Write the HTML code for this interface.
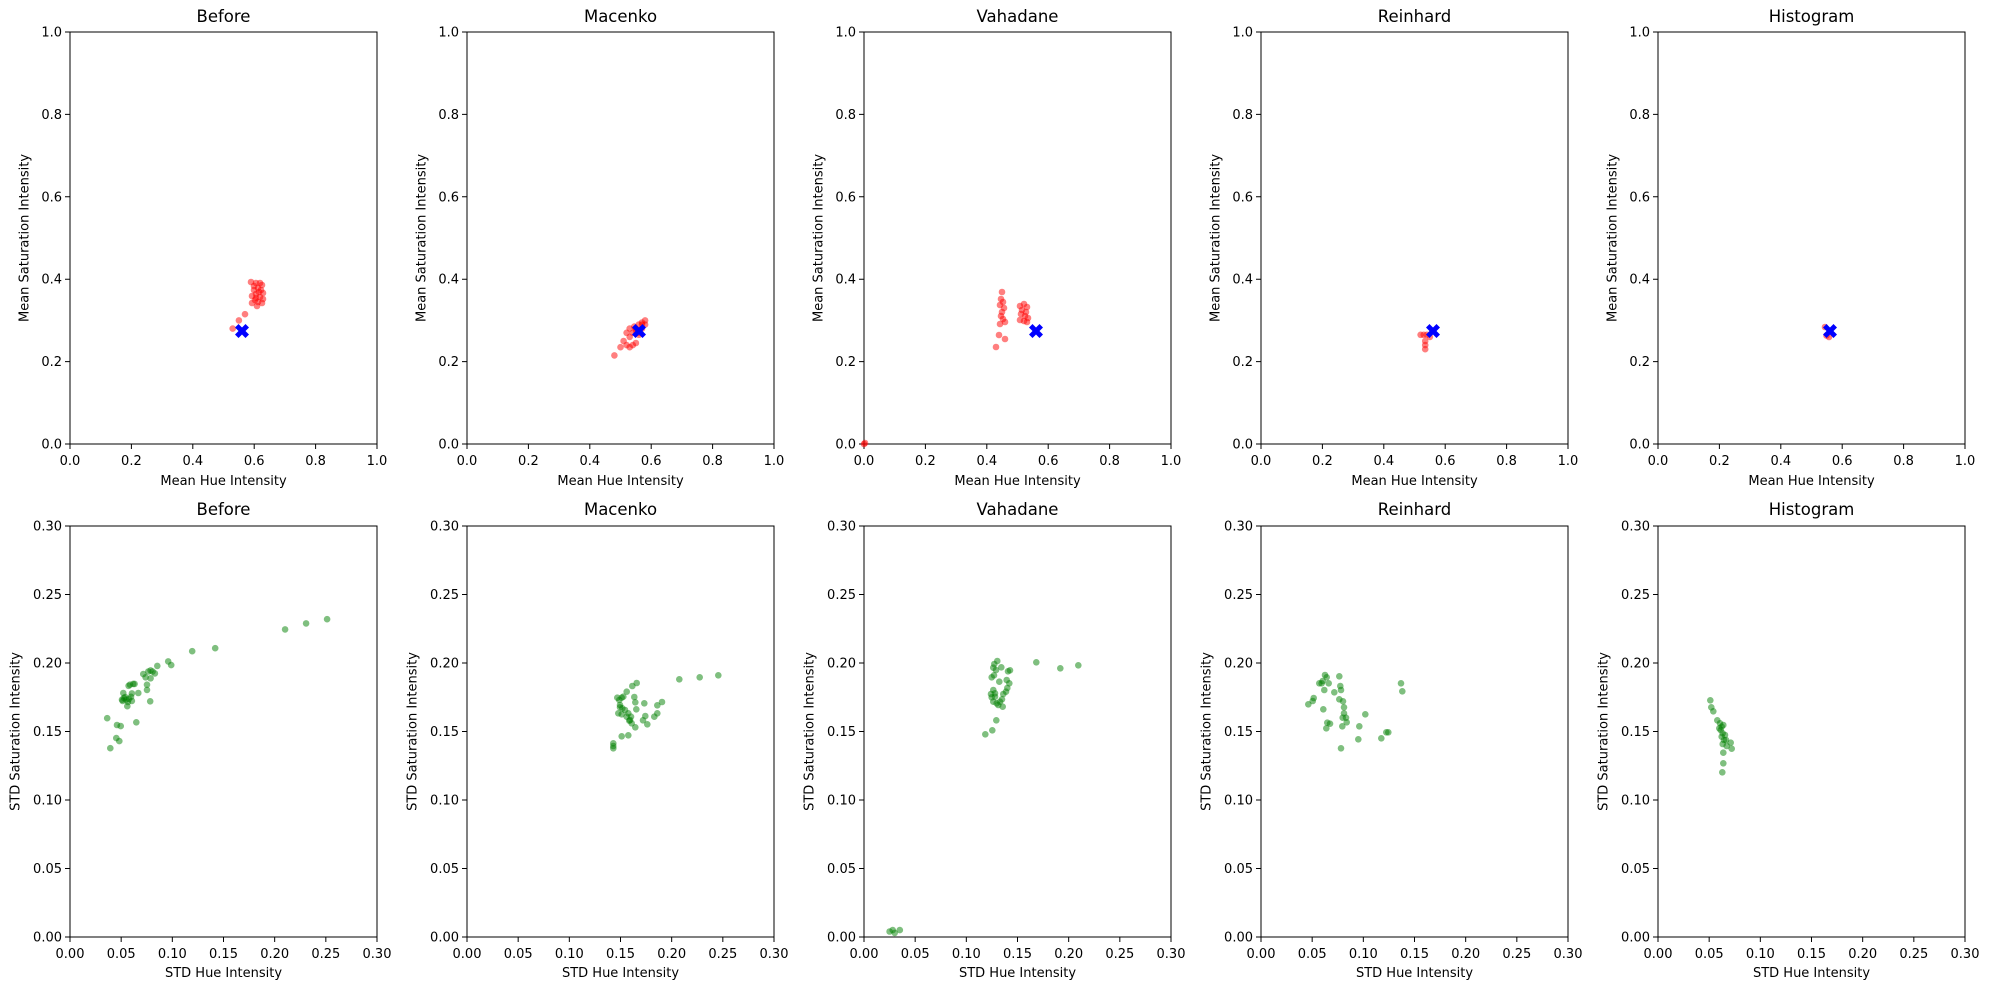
<!DOCTYPE html>
<html><head><meta charset="utf-8"><style>
html,body{margin:0;padding:0;background:#fff}
svg{display:block;font-family:"DejaVu Sans","Liberation Sans",sans-serif}
.t{font-size:13px;fill:#000}
.ti{font-size:16.5px;fill:#000}
.ax{fill:none;stroke:#000;stroke-width:1}
.r circle{fill:#ff0000;fill-opacity:.5}
.g circle{fill:#008000;fill-opacity:.5}
</style></head><body>
<svg width="1990" height="990" viewBox="0 0 1990 990">
<defs>
<g id="tt">
<rect class="ax" x="0" y="0" width="307" height="412"/>
<path class="ax" d="M0 412v5M61.4 412v5M122.8 412v5M184.2 412v5M245.6 412v5M307 412v5M0 412h-5M0 329.6h-5M0 247.2h-5M0 164.8h-5M0 82.4h-5M0 0h-5"/>
</g>
<g id="bt">
<rect class="ax" x="0" y="0" width="307" height="411"/>
<path class="ax" d="M0 411v5M51.17 411v5M102.33 411v5M153.5 411v5M204.67 411v5M255.83 411v5M307 411v5M0 411h-5M0 342.5h-5M0 274h-5M0 205.5h-5M0 137h-5M0 68.5h-5M0 0h-5"/>
</g>
<path id="X" fill="#0000ff" d="M-7,-3.5L-3.5,-7L0,-3.5L3.5,-7L7,-3.5L3.5,0L7,3.5L3.5,7L0,3.5L-3.5,7L-7,3.5L-3.5,0Z"/>
</defs>

<!-- TOP ROW -->
<g transform="translate(70,32)"><use href="#tt"/>
<text class="ti" x="153.5" y="-10" text-anchor="middle">Before</text>
<g class="t" text-anchor="middle"><text x="0" y="433">0.0</text><text x="61.4" y="433">0.2</text><text x="122.8" y="433">0.4</text><text x="184.2" y="433">0.6</text><text x="245.6" y="433">0.8</text><text x="307" y="433">1.0</text></g>
<g class="t" text-anchor="end"><text x="-8" y="416.5">0.0</text><text x="-8" y="334">0.2</text><text x="-8" y="251.7">0.4</text><text x="-8" y="169.3">0.6</text><text x="-8" y="86.9">0.8</text><text x="-8" y="4.5">1.0</text></g>
<text class="t" x="153.5" y="453" text-anchor="middle">Mean Hue Intensity</text>
<text class="t" transform="translate(-45,206) rotate(-90)" text-anchor="middle" dominant-baseline="central">Mean Saturation Intensity</text>
</g>
<g transform="translate(467,32)"><use href="#tt"/>
<text class="ti" x="153.5" y="-10" text-anchor="middle">Macenko</text>
<g class="t" text-anchor="middle"><text x="0" y="433">0.0</text><text x="61.4" y="433">0.2</text><text x="122.8" y="433">0.4</text><text x="184.2" y="433">0.6</text><text x="245.6" y="433">0.8</text><text x="307" y="433">1.0</text></g>
<g class="t" text-anchor="end"><text x="-8" y="416.5">0.0</text><text x="-8" y="334">0.2</text><text x="-8" y="251.7">0.4</text><text x="-8" y="169.3">0.6</text><text x="-8" y="86.9">0.8</text><text x="-8" y="4.5">1.0</text></g>
<text class="t" x="153.5" y="453" text-anchor="middle">Mean Hue Intensity</text>
<text class="t" transform="translate(-45,206) rotate(-90)" text-anchor="middle" dominant-baseline="central">Mean Saturation Intensity</text>
</g>
<g transform="translate(864,32)"><use href="#tt"/>
<text class="ti" x="153.5" y="-10" text-anchor="middle">Vahadane</text>
<g class="t" text-anchor="middle"><text x="0" y="433">0.0</text><text x="61.4" y="433">0.2</text><text x="122.8" y="433">0.4</text><text x="184.2" y="433">0.6</text><text x="245.6" y="433">0.8</text><text x="307" y="433">1.0</text></g>
<g class="t" text-anchor="end"><text x="-8" y="416.5">0.0</text><text x="-8" y="334">0.2</text><text x="-8" y="251.7">0.4</text><text x="-8" y="169.3">0.6</text><text x="-8" y="86.9">0.8</text><text x="-8" y="4.5">1.0</text></g>
<text class="t" x="153.5" y="453" text-anchor="middle">Mean Hue Intensity</text>
<text class="t" transform="translate(-45,206) rotate(-90)" text-anchor="middle" dominant-baseline="central">Mean Saturation Intensity</text>
</g>
<g transform="translate(1261,32)"><use href="#tt"/>
<text class="ti" x="153.5" y="-10" text-anchor="middle">Reinhard</text>
<g class="t" text-anchor="middle"><text x="0" y="433">0.0</text><text x="61.4" y="433">0.2</text><text x="122.8" y="433">0.4</text><text x="184.2" y="433">0.6</text><text x="245.6" y="433">0.8</text><text x="307" y="433">1.0</text></g>
<g class="t" text-anchor="end"><text x="-8" y="416.5">0.0</text><text x="-8" y="334">0.2</text><text x="-8" y="251.7">0.4</text><text x="-8" y="169.3">0.6</text><text x="-8" y="86.9">0.8</text><text x="-8" y="4.5">1.0</text></g>
<text class="t" x="153.5" y="453" text-anchor="middle">Mean Hue Intensity</text>
<text class="t" transform="translate(-45,206) rotate(-90)" text-anchor="middle" dominant-baseline="central">Mean Saturation Intensity</text>
</g>
<g transform="translate(1658,32)"><use href="#tt"/>
<text class="ti" x="153.5" y="-10" text-anchor="middle">Histogram</text>
<g class="t" text-anchor="middle"><text x="0" y="433">0.0</text><text x="61.4" y="433">0.2</text><text x="122.8" y="433">0.4</text><text x="184.2" y="433">0.6</text><text x="245.6" y="433">0.8</text><text x="307" y="433">1.0</text></g>
<g class="t" text-anchor="end"><text x="-8" y="416.5">0.0</text><text x="-8" y="334">0.2</text><text x="-8" y="251.7">0.4</text><text x="-8" y="169.3">0.6</text><text x="-8" y="86.9">0.8</text><text x="-8" y="4.5">1.0</text></g>
<text class="t" x="153.5" y="453" text-anchor="middle">Mean Hue Intensity</text>
<text class="t" transform="translate(-45,206) rotate(-90)" text-anchor="middle" dominant-baseline="central">Mean Saturation Intensity</text>
</g>

<!-- BOTTOM ROW -->
<g transform="translate(70,526)"><use href="#bt"/>
<text class="ti" x="153.5" y="-11" text-anchor="middle">Before</text>
<g class="t" text-anchor="middle"><text x="0" y="432">0.00</text><text x="51.17" y="432">0.05</text><text x="102.33" y="432">0.10</text><text x="153.5" y="432">0.15</text><text x="204.67" y="432">0.20</text><text x="255.83" y="432">0.25</text><text x="307" y="432">0.30</text></g>
<g class="t" text-anchor="end"><text x="-8" y="415.5">0.00</text><text x="-8" y="347">0.05</text><text x="-8" y="278.5">0.10</text><text x="-8" y="210">0.15</text><text x="-8" y="141.5">0.20</text><text x="-8" y="73">0.25</text><text x="-8" y="4.5">0.30</text></g>
<text class="t" x="153.5" y="451" text-anchor="middle">STD Hue Intensity</text>
<text class="t" transform="translate(-54,205.5) rotate(-90)" text-anchor="middle" dominant-baseline="central">STD Saturation Intensity</text>
</g>
<g transform="translate(467,526)"><use href="#bt"/>
<text class="ti" x="153.5" y="-11" text-anchor="middle">Macenko</text>
<g class="t" text-anchor="middle"><text x="0" y="432">0.00</text><text x="51.17" y="432">0.05</text><text x="102.33" y="432">0.10</text><text x="153.5" y="432">0.15</text><text x="204.67" y="432">0.20</text><text x="255.83" y="432">0.25</text><text x="307" y="432">0.30</text></g>
<g class="t" text-anchor="end"><text x="-8" y="415.5">0.00</text><text x="-8" y="347">0.05</text><text x="-8" y="278.5">0.10</text><text x="-8" y="210">0.15</text><text x="-8" y="141.5">0.20</text><text x="-8" y="73">0.25</text><text x="-8" y="4.5">0.30</text></g>
<text class="t" x="153.5" y="451" text-anchor="middle">STD Hue Intensity</text>
<text class="t" transform="translate(-54,205.5) rotate(-90)" text-anchor="middle" dominant-baseline="central">STD Saturation Intensity</text>
</g>
<g transform="translate(864,526)"><use href="#bt"/>
<text class="ti" x="153.5" y="-11" text-anchor="middle">Vahadane</text>
<g class="t" text-anchor="middle"><text x="0" y="432">0.00</text><text x="51.17" y="432">0.05</text><text x="102.33" y="432">0.10</text><text x="153.5" y="432">0.15</text><text x="204.67" y="432">0.20</text><text x="255.83" y="432">0.25</text><text x="307" y="432">0.30</text></g>
<g class="t" text-anchor="end"><text x="-8" y="415.5">0.00</text><text x="-8" y="347">0.05</text><text x="-8" y="278.5">0.10</text><text x="-8" y="210">0.15</text><text x="-8" y="141.5">0.20</text><text x="-8" y="73">0.25</text><text x="-8" y="4.5">0.30</text></g>
<text class="t" x="153.5" y="451" text-anchor="middle">STD Hue Intensity</text>
<text class="t" transform="translate(-54,205.5) rotate(-90)" text-anchor="middle" dominant-baseline="central">STD Saturation Intensity</text>
</g>
<g transform="translate(1261,526)"><use href="#bt"/>
<text class="ti" x="153.5" y="-11" text-anchor="middle">Reinhard</text>
<g class="t" text-anchor="middle"><text x="0" y="432">0.00</text><text x="51.17" y="432">0.05</text><text x="102.33" y="432">0.10</text><text x="153.5" y="432">0.15</text><text x="204.67" y="432">0.20</text><text x="255.83" y="432">0.25</text><text x="307" y="432">0.30</text></g>
<g class="t" text-anchor="end"><text x="-8" y="415.5">0.00</text><text x="-8" y="347">0.05</text><text x="-8" y="278.5">0.10</text><text x="-8" y="210">0.15</text><text x="-8" y="141.5">0.20</text><text x="-8" y="73">0.25</text><text x="-8" y="4.5">0.30</text></g>
<text class="t" x="153.5" y="451" text-anchor="middle">STD Hue Intensity</text>
<text class="t" transform="translate(-54,205.5) rotate(-90)" text-anchor="middle" dominant-baseline="central">STD Saturation Intensity</text>
</g>
<g transform="translate(1658,526)"><use href="#bt"/>
<text class="ti" x="153.5" y="-11" text-anchor="middle">Histogram</text>
<g class="t" text-anchor="middle"><text x="0" y="432">0.00</text><text x="51.17" y="432">0.05</text><text x="102.33" y="432">0.10</text><text x="153.5" y="432">0.15</text><text x="204.67" y="432">0.20</text><text x="255.83" y="432">0.25</text><text x="307" y="432">0.30</text></g>
<g class="t" text-anchor="end"><text x="-8" y="415.5">0.00</text><text x="-8" y="347">0.05</text><text x="-8" y="278.5">0.10</text><text x="-8" y="210">0.15</text><text x="-8" y="141.5">0.20</text><text x="-8" y="73">0.25</text><text x="-8" y="4.5">0.30</text></g>
<text class="t" x="153.5" y="451" text-anchor="middle">STD Hue Intensity</text>
<text class="t" transform="translate(-54,205.5) rotate(-90)" text-anchor="middle" dominant-baseline="central">STD Saturation Intensity</text>
</g>

<!-- TOP POINTS -->
<g class="r">
<circle cx="251" cy="282" r="3.3"/><circle cx="256" cy="283" r="3.3"/><circle cx="260" cy="283" r="3.3"/><circle cx="262" cy="285" r="3.3"/><circle cx="258" cy="288" r="3.3"/><circle cx="254" cy="290" r="3.3"/><circle cx="261" cy="290" r="3.3"/><circle cx="263" cy="293" r="3.3"/><circle cx="256" cy="294" r="3.3"/><circle cx="252" cy="296" r="3.3"/><circle cx="260" cy="297" r="3.3"/><circle cx="263" cy="299" r="3.3"/><circle cx="255" cy="300" r="3.3"/><circle cx="258" cy="302" r="3.3"/><circle cx="252" cy="303" r="3.3"/><circle cx="262" cy="303" r="3.3"/><circle cx="257" cy="306" r="3.3"/><circle cx="254" cy="286" r="3.3"/><circle cx="259" cy="292" r="3.3"/><circle cx="256" cy="298" r="3.3"/>
<circle cx="238.9" cy="320.4" r="3.3"/><circle cx="245" cy="314.2" r="3.3"/><circle cx="232.7" cy="328.6" r="3.3"/>

<circle cx="614.4" cy="355.4" r="3.3"/><circle cx="620.5" cy="347.2" r="3.3"/><circle cx="623.6" cy="341" r="3.3"/><circle cx="626.6" cy="345.1" r="3.3"/><circle cx="629.7" cy="347.2" r="3.3"/><circle cx="632.8" cy="345.1" r="3.3"/><circle cx="635.9" cy="343" r="3.3"/><circle cx="629.7" cy="336.9" r="3.3"/><circle cx="632.8" cy="332.8" r="3.3"/><circle cx="635.9" cy="328.6" r="3.3"/><circle cx="638.9" cy="324.5" r="3.3"/><circle cx="642" cy="322.5" r="3.3"/><circle cx="645.1" cy="320.4" r="3.3"/><circle cx="642" cy="328.6" r="3.3"/><circle cx="638.9" cy="332.8" r="3.3"/><circle cx="645.1" cy="324.5" r="3.3"/><circle cx="635.9" cy="330.7" r="3.3"/><circle cx="626.6" cy="332.8" r="3.3"/><circle cx="629.7" cy="328.6" r="3.3"/><circle cx="638.9" cy="334.8" r="3.3"/><circle cx="642" cy="324.5" r="3.3"/><circle cx="634.3" cy="326.6" r="3.3"/>

<circle cx="1002" cy="292" r="3.3"/><circle cx="1001" cy="299" r="3.3"/><circle cx="1003" cy="302" r="3.3"/><circle cx="1000" cy="305" r="3.3"/><circle cx="1004" cy="308" r="3.3"/><circle cx="1002" cy="312" r="3.3"/><circle cx="1001" cy="316" r="3.3"/><circle cx="1003" cy="319" r="3.3"/><circle cx="1005" cy="322" r="3.3"/><circle cx="1000" cy="324" r="3.3"/>
<circle cx="1020" cy="306" r="3.3"/><circle cx="1024" cy="304" r="3.3"/><circle cx="1027" cy="307" r="3.3"/><circle cx="1022" cy="310" r="3.3"/><circle cx="1026" cy="312" r="3.3"/><circle cx="1021" cy="314" r="3.3"/><circle cx="1025" cy="316" r="3.3"/><circle cx="1028" cy="318" r="3.3"/><circle cx="1020" cy="320" r="3.3"/><circle cx="1024" cy="321" r="3.3"/><circle cx="1027" cy="322" r="3.3"/>
<circle cx="999" cy="335" r="3.3"/><circle cx="996" cy="347" r="3.3"/><circle cx="1005" cy="339" r="3.3"/><circle cx="864" cy="444" r="3.3"/><circle cx="865" cy="443" r="3.3"/>

<circle cx="1420.6" cy="334.8" r="3.3"/><circle cx="1423.7" cy="334.8" r="3.3"/><circle cx="1426.8" cy="334.8" r="3.3"/><circle cx="1425.2" cy="341" r="3.3"/><circle cx="1425.2" cy="345.1" r="3.3"/><circle cx="1425.2" cy="349.2" r="3.3"/><circle cx="1429.9" cy="336.9" r="3.3"/>

<circle cx="1825" cy="327" r="3.3"/><circle cx="1826.5" cy="335.5" r="3.3"/><circle cx="1829" cy="337" r="3.3"/>
</g>
<use href="#X" x="242" y="331"/><use href="#X" x="639" y="331"/><use href="#X" x="1036" y="331"/><use href="#X" x="1433" y="331"/><use href="#X" x="1830" y="331"/>

<!-- BOTTOM POINTS -->
<g class="g">
<circle cx="107.2" cy="718.2" r="3.3"/><circle cx="110.3" cy="748.2" r="3.3"/><circle cx="116.3" cy="738.1" r="3.3"/><circle cx="119.3" cy="741.1" r="3.3"/><circle cx="117" cy="725" r="3.3"/><circle cx="120.7" cy="726.1" r="3.3"/><circle cx="136.3" cy="722.3" r="3.3"/><circle cx="122" cy="699.7" r="3.3"/><circle cx="123.3" cy="693" r="3.3"/><circle cx="125.3" cy="697.1" r="3.3"/><circle cx="127.3" cy="706.2" r="3.3"/><circle cx="128.6" cy="685.8" r="3.3"/><circle cx="130" cy="684.7" r="3.3"/><circle cx="133.2" cy="683.9" r="3.3"/><circle cx="134.6" cy="683.9" r="3.3"/><circle cx="131.9" cy="693.4" r="3.3"/><circle cx="131.9" cy="700.9" r="3.3"/><circle cx="128.9" cy="699" r="3.3"/><circle cx="126" cy="699.7" r="3.3"/><circle cx="131" cy="696.8" r="3.3"/><circle cx="138.3" cy="693" r="3.3"/><circle cx="147" cy="689.9" r="3.3"/><circle cx="147" cy="684.7" r="3.3"/><circle cx="150.2" cy="701.3" r="3.3"/><circle cx="143.3" cy="674.1" r="3.3"/><circle cx="145.6" cy="677.3" r="3.3"/><circle cx="148.3" cy="671.5" r="3.3"/><circle cx="150.6" cy="670.4" r="3.3"/><circle cx="152.6" cy="671.5" r="3.3"/><circle cx="154.9" cy="673.4" r="3.3"/><circle cx="150.6" cy="678.3" r="3.3"/><circle cx="157.3" cy="665.9" r="3.3"/><circle cx="168.2" cy="661.4" r="3.3"/><circle cx="171.2" cy="665.1" r="3.3"/><circle cx="192.2" cy="651.2" r="3.3"/><circle cx="215.2" cy="648.2" r="3.3"/><circle cx="285.1" cy="629.4" r="3.3"/><circle cx="306.1" cy="623.4" r="3.3"/><circle cx="327.1" cy="619.2" r="3.3"/><circle cx="122.6" cy="700.9" r="3.3"/><circle cx="123.9" cy="697.9" r="3.3"/><circle cx="127.9" cy="702" r="3.3"/>
<circle cx="613.3" cy="743.3" r="3.3"/><circle cx="613.3" cy="746" r="3.3"/><circle cx="613.3" cy="748.3" r="3.3"/><circle cx="621.7" cy="736.3" r="3.3"/><circle cx="628.3" cy="735.3" r="3.3"/><circle cx="635.3" cy="727.3" r="3.3"/><circle cx="631.7" cy="723.3" r="3.3"/><circle cx="629.3" cy="720.7" r="3.3"/><circle cx="626.7" cy="716.7" r="3.3"/><circle cx="630" cy="720" r="3.3"/><circle cx="631" cy="716.7" r="3.3"/><circle cx="618.3" cy="713.3" r="3.3"/><circle cx="621.7" cy="714.3" r="3.3"/><circle cx="625" cy="710" r="3.3"/><circle cx="620" cy="705" r="3.3"/><circle cx="622.3" cy="708.3" r="3.3"/><circle cx="636.3" cy="709.3" r="3.3"/><circle cx="635.3" cy="702.3" r="3.3"/><circle cx="634.3" cy="697" r="3.3"/><circle cx="621.7" cy="697.7" r="3.3"/><circle cx="617.3" cy="697.7" r="3.3"/><circle cx="623.3" cy="696.7" r="3.3"/><circle cx="626.7" cy="691.7" r="3.3"/><circle cx="632.3" cy="686" r="3.3"/><circle cx="636.7" cy="683" r="3.3"/><circle cx="644.3" cy="703.3" r="3.3"/><circle cx="645.3" cy="716" r="3.3"/><circle cx="643" cy="720.3" r="3.3"/><circle cx="647.3" cy="724.3" r="3.3"/><circle cx="654.3" cy="716.7" r="3.3"/><circle cx="657.3" cy="713.3" r="3.3"/><circle cx="657.3" cy="705.3" r="3.3"/><circle cx="662" cy="702" r="3.3"/><circle cx="679.3" cy="679.3" r="3.3"/><circle cx="699.7" cy="677.3" r="3.3"/><circle cx="718.3" cy="675.3" r="3.3"/><circle cx="619.3" cy="700" r="3.3"/><circle cx="620" cy="707.3" r="3.3"/><circle cx="628.3" cy="713.3" r="3.3"/>
<circle cx="985.3" cy="734.3" r="3.3"/><circle cx="992.3" cy="730.3" r="3.3"/><circle cx="996.3" cy="720.3" r="3.3"/><circle cx="997.3" cy="661" r="3.3"/><circle cx="994.3" cy="664" r="3.3"/><circle cx="993.3" cy="667.7" r="3.3"/><circle cx="1001.3" cy="667.3" r="3.3"/><circle cx="996" cy="670" r="3.3"/><circle cx="1010" cy="670.3" r="3.3"/><circle cx="1008" cy="671.3" r="3.3"/><circle cx="991.7" cy="677.3" r="3.3"/><circle cx="994" cy="675.3" r="3.3"/><circle cx="999.3" cy="681.7" r="3.3"/><circle cx="1006.7" cy="680" r="3.3"/><circle cx="1009.3" cy="683.3" r="3.3"/><circle cx="1007.3" cy="688" r="3.3"/><circle cx="1006" cy="691.7" r="3.3"/><circle cx="1003.3" cy="694" r="3.3"/><circle cx="993.3" cy="690" r="3.3"/><circle cx="991.7" cy="697.3" r="3.3"/><circle cx="995" cy="696.7" r="3.3"/><circle cx="993.3" cy="701.7" r="3.3"/><circle cx="996.7" cy="703.3" r="3.3"/><circle cx="1000" cy="701.7" r="3.3"/><circle cx="1002.7" cy="706.7" r="3.3"/><circle cx="998.3" cy="705" r="3.3"/><circle cx="1002" cy="699.3" r="3.3"/><circle cx="1036.3" cy="662.3" r="3.3"/><circle cx="1060.3" cy="668.3" r="3.3"/><circle cx="1078.3" cy="665.3" r="3.3"/><circle cx="991" cy="694" r="3.3"/><circle cx="995" cy="693.3" r="3.3"/>
<circle cx="889.6" cy="931.5" r="3.3"/><circle cx="892.7" cy="930.1" r="3.3"/><circle cx="899.8" cy="930.1" r="3.3"/><circle cx="894.7" cy="932.9" r="3.3"/>
<circle cx="1308.3" cy="704.3" r="3.3"/><circle cx="1312.7" cy="701" r="3.3"/><circle cx="1313.7" cy="698" r="3.3"/><circle cx="1323.3" cy="709.3" r="3.3"/><circle cx="1319.3" cy="683.3" r="3.3"/><circle cx="1322.7" cy="681" r="3.3"/><circle cx="1325" cy="675" r="3.3"/><circle cx="1326.7" cy="677.3" r="3.3"/><circle cx="1328.7" cy="683.3" r="3.3"/><circle cx="1324.3" cy="690" r="3.3"/><circle cx="1334.3" cy="692.3" r="3.3"/><circle cx="1339.3" cy="676.3" r="3.3"/><circle cx="1340.3" cy="686" r="3.3"/><circle cx="1341" cy="690" r="3.3"/><circle cx="1339.3" cy="699.3" r="3.3"/><circle cx="1343" cy="701.3" r="3.3"/><circle cx="1344" cy="707.3" r="3.3"/><circle cx="1344" cy="713.3" r="3.3"/><circle cx="1346" cy="717.7" r="3.3"/><circle cx="1346.7" cy="722.3" r="3.3"/><circle cx="1342.7" cy="717.7" r="3.3"/><circle cx="1342.3" cy="726.3" r="3.3"/><circle cx="1327.3" cy="722.7" r="3.3"/><circle cx="1330" cy="723.7" r="3.3"/><circle cx="1326.3" cy="728.3" r="3.3"/><circle cx="1359.3" cy="726.3" r="3.3"/><circle cx="1365.3" cy="714.3" r="3.3"/><circle cx="1358.3" cy="739.3" r="3.3"/><circle cx="1341" cy="748.3" r="3.3"/><circle cx="1381.3" cy="738.3" r="3.3"/><circle cx="1386.3" cy="732.3" r="3.3"/><circle cx="1388.3" cy="732.3" r="3.3"/><circle cx="1401" cy="683.3" r="3.3"/><circle cx="1402.3" cy="691.3" r="3.3"/><circle cx="1321.7" cy="683.3" r="3.3"/>
<circle cx="1710.3" cy="700.3" r="3.3"/><circle cx="1711.3" cy="707.3" r="3.3"/><circle cx="1713.3" cy="711.3" r="3.3"/><circle cx="1717.3" cy="720.3" r="3.3"/><circle cx="1720" cy="723.3" r="3.3"/><circle cx="1721.7" cy="726.7" r="3.3"/><circle cx="1720.7" cy="730" r="3.3"/><circle cx="1722.7" cy="733.3" r="3.3"/><circle cx="1721.7" cy="736.7" r="3.3"/><circle cx="1724" cy="740" r="3.3"/><circle cx="1722.7" cy="744" r="3.3"/><circle cx="1726.7" cy="746" r="3.3"/><circle cx="1730.7" cy="742.7" r="3.3"/><circle cx="1731.7" cy="748.7" r="3.3"/><circle cx="1723.3" cy="752.7" r="3.3"/><circle cx="1723.3" cy="763.3" r="3.3"/><circle cx="1722.3" cy="772.3" r="3.3"/><circle cx="1719.3" cy="728.3" r="3.3"/><circle cx="1723.3" cy="725" r="3.3"/><circle cx="1725" cy="735" r="3.3"/><circle cx="1726" cy="740" r="3.3"/>
</g>
</svg>
</body></html>
